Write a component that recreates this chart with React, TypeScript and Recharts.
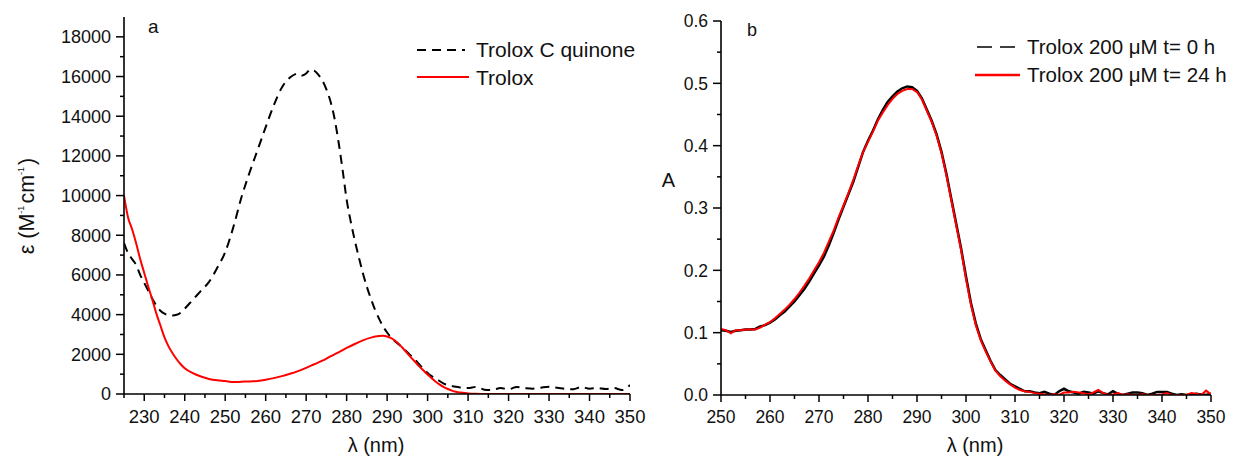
import React from 'react';
import { LineChart, Line, XAxis, YAxis } from 'recharts';

const FONT = '"Liberation Sans", Arial, Helvetica, sans-serif';

// ---- panel a : molar absorptivity ----
const quinoneNm = [
  225, 226, 227, 228, 229, 230, 231, 232, 233, 234, 235, 236, 237, 238, 239, 240,
  242, 244, 246, 248, 250, 252, 254, 256, 258, 260, 262, 264, 266, 268,
  269, 270, 271, 272, 273, 274, 275, 276, 277, 278, 279, 280, 281, 282, 283, 284, 285, 286, 287, 288,
  289, 290, 291, 292, 293, 294, 295, 296, 297, 298, 299, 300, 301, 302, 303, 304, 305, 306, 307, 308,
  310, 312, 314, 316, 318, 320, 322, 324, 326, 328, 330, 332, 334, 336, 338, 340, 342, 344, 346, 348, 350,
];
const quinoneEps = [
  7600, 7100, 6800, 6500, 6000, 5600, 5200, 4800, 4450, 4200, 4050, 3980, 3960, 3990, 4100, 4300,
  4750, 5200, 5650, 6350, 7150, 8400, 9900, 11150, 12300, 13450, 14550, 15450, 15950, 16150,
  16050, 16150, 16350, 16300, 16100, 15800, 15350, 14750, 13900, 12700, 11300, 9800, 8700, 7750, 6900, 6100, 5400, 4800, 4250, 3800,
  3400, 3100, 2850, 2650, 2480, 2300, 2100, 1900, 1700, 1480, 1260, 1060, 900, 780, 650, 520, 450, 400, 360, 330,
  300, 360, 220, 200, 300, 240, 350, 300, 270, 320, 360, 320, 260, 240, 350, 270, 300, 250, 300, 200, 450,
];

const troloxNm = [
  225, 226, 227, 228, 229, 230, 231, 232, 233, 234, 235, 236, 237, 238, 239, 240,
  242, 244, 246, 248, 250, 252, 254, 256, 258, 260, 262, 264, 266, 268, 270, 272, 274, 276, 278, 280, 282, 284, 286, 288,
  289, 290, 291, 292, 293, 294, 295, 296, 297, 298, 299, 300, 301, 302, 303, 304, 305, 306, 307, 308,
  310, 312, 314, 316, 318, 320, 322, 324, 326, 328, 330, 332, 334, 336, 338, 340, 342, 344, 346, 348, 350,
];
const troloxEps = [
  10000, 8900, 8300, 7600, 6800, 6100, 5400, 4750, 4050, 3450, 2850, 2400, 2050, 1750, 1500, 1300,
  1050, 880, 760, 690, 650, 600, 620, 630, 660, 720, 800, 900, 1020, 1150, 1320, 1500, 1680, 1900, 2100, 2320, 2520, 2700, 2840, 2920,
  2930, 2900, 2820, 2680, 2500, 2280, 2050, 1820, 1600, 1380, 1180, 980, 800, 620, 470, 350, 250, 170, 110, 70,
  30, 10, 0, 0, 0, 0, 0, 0, 0, 0, 0, 0, 0, 0, 0, 0, 0, 0, 0, 0, 0,
];

// ---- panel b : absorbance ----
const wavelengthB = Array.from({ length: 101 }, (_, i) => 250 + i);
const absT0 = [
  0.104, 0.103, 0.101, 0.103, 0.104, 0.105, 0.105, 0.106, 0.110, 0.112,
  0.116, 0.121, 0.128, 0.134, 0.142, 0.150, 0.160, 0.170, 0.182, 0.195,
  0.208, 0.222, 0.240, 0.260, 0.282, 0.302, 0.322, 0.342, 0.366, 0.390,
  0.408, 0.424, 0.442, 0.457, 0.470, 0.479, 0.487, 0.492, 0.495, 0.494,
  0.488, 0.476, 0.458, 0.440, 0.418, 0.390, 0.355, 0.315, 0.275, 0.235,
  0.190, 0.148, 0.115, 0.090, 0.072, 0.055, 0.040, 0.032, 0.025, 0.018,
  0.014, 0.010, 0.006, 0.006, 0.004, 0.003, 0.005, 0.002, 0.000, 0.006,
  0.010, 0.006, 0.004, 0.002, 0.005, 0.004, 0.002, 0.006, 0.003, 0.001,
  0.006, 0.002, 0.000, 0.002, 0.004, 0.004, 0.003, 0.000, 0.002, 0.005,
  0.005, 0.005, 0.002, 0.000, 0.001, 0.000, 0.000, 0.002, 0.001, 0.000,
  0.002,
];
const absT24 = [
  0.106, 0.104, 0.099, 0.104, 0.104, 0.105, 0.105, 0.105, 0.108, 0.113,
  0.117, 0.123, 0.130, 0.137, 0.145, 0.154, 0.164, 0.175, 0.187, 0.200,
  0.213, 0.228, 0.246, 0.264, 0.285, 0.304, 0.324, 0.345, 0.368, 0.390,
  0.406, 0.422, 0.440, 0.453, 0.465, 0.475, 0.483, 0.488, 0.491, 0.491,
  0.486, 0.474, 0.456, 0.438, 0.416, 0.388, 0.352, 0.312, 0.272, 0.232,
  0.186, 0.145, 0.112, 0.088, 0.070, 0.054, 0.039, 0.030, 0.023, 0.017,
  0.012, 0.008, 0.006, 0.005, 0.003, 0.002, 0.001, 0.000, 0.001, 0.000,
  0.004, 0.004, 0.005, 0.004, 0.003, 0.001, 0.004, 0.008, 0.003, 0.000,
  0.001, 0.003, 0.000, 0.001, 0.000, 0.000, 0.001, 0.000, 0.000, 0.000,
  0.001, 0.003, 0.000, 0.000, 0.000, 0.000, 0.003, 0.002, 0.000, 0.007,
  0.001,
];

const ticksXa = [225, 230, 235, 240, 245, 250, 255, 260, 265, 270, 275, 280, 285, 290, 295, 300, 305, 310, 315, 320, 325, 330, 335, 340, 345, 350];
const ticksYa = [0, 1000, 2000, 3000, 4000, 5000, 6000, 7000, 8000, 9000, 10000, 11000, 12000, 13000, 14000, 15000, 16000, 17000, 18000];
const ticksXb = [250, 255, 260, 265, 270, 275, 280, 285, 290, 295, 300, 305, 310, 315, 320, 325, 330, 335, 340, 345, 350];
const ticksYb = [0, 0.05, 0.1, 0.15, 0.2, 0.25, 0.3, 0.35, 0.4, 0.45, 0.5, 0.55, 0.6];

const quinoneData = quinoneNm.map((nm, i) => ({ nm, v: quinoneEps[i] }));
const troloxData = troloxNm.map((nm, i) => ({ nm, v: troloxEps[i] }));
const t0Data = wavelengthB.map((nm, i) => ({ nm, v: absT0[i] }));
const t24Data = wavelengthB.map((nm, i) => ({ nm, v: absT24[i] }));

const makeXTick = (fontSize: number, dy: number) => (props: any) => {
  const { x, y, payload } = props;
  const v = payload.value;
  const major = v % 10 === 0 && v !== 225;
  return (
    <g>
      <line x1={x} x2={x} y1={y} y2={y + (major ? 7 : 4)} stroke="#000" strokeWidth={1.5} />
      {major && (
        <text x={x} y={y + dy} textAnchor="middle" fontSize={fontSize} fontFamily={FONT} fill="#111">
          {v}
        </text>
      )}
    </g>
  );
};

const makeYTick = (fontSize: number, isMajor: (v: number) => boolean, fmt: (v: number) => string) => (props: any) => {
  const { x, y, payload } = props;
  const v = payload.value;
  const major = isMajor(v);
  return (
    <g>
      <line x1={x} x2={x - (major ? 8 : 4)} y1={y} y2={y} stroke="#000" strokeWidth={1.5} />
      {major && (
        <text x={x - 13} y={y} dy="0.36em" textAnchor="end" fontSize={fontSize} fontFamily={FONT} fill="#111">
          {fmt(v)}
        </text>
      )}
    </g>
  );
};

const axisLine = { stroke: '#000', strokeWidth: 1.6 };

export default function App() {
  return (
    <div style={{ position: 'absolute', left: 0, top: 0, width: 1247, height: 460, background: '#fff', fontFamily: FONT }}>
      <div style={{ position: 'absolute', left: 0, top: 0 }}>
        <LineChart width={670} height={460} margin={{ top: 17, right: 40, bottom: 36, left: 64 }}>
          <XAxis
            dataKey="nm"
            type="number"
            domain={[225, 350]}
            ticks={ticksXa}
            interval={0}
            allowDataOverflow
            height={30}
            tickLine={false}
            tickSize={0}
            tickMargin={0}
            axisLine={axisLine}
            tick={makeXTick(18.5, 29)}
          />
          <YAxis
            type="number"
            domain={[0, 19000]}
            ticks={ticksYa}
            interval={0}
            allowDataOverflow
            width={60}
            tickLine={false}
            tickSize={0}
            tickMargin={0}
            axisLine={axisLine}
            tick={makeYTick(18, (v) => v % 2000 === 0, (v) => String(v))}
          />
          <Line data={quinoneData} dataKey="v" type="monotone" stroke="#000" strokeWidth={2} strokeDasharray="9 6" dot={false} isAnimationActive={false} />
          <Line data={troloxData} dataKey="v" type="monotone" stroke="#f00" strokeWidth={2} dot={false} isAnimationActive={false} />
        </LineChart>
      </div>
      <div style={{ position: 'absolute', left: 640, top: 0 }}>
        <LineChart width={607} height={460} margin={{ top: 21, right: 36, bottom: 35, left: 21 }}>
          <XAxis
            dataKey="nm"
            type="number"
            domain={[250, 350]}
            ticks={ticksXb}
            interval={0}
            allowDataOverflow
            height={30}
            tickLine={false}
            tickSize={0}
            tickMargin={0}
            axisLine={axisLine}
            tick={makeXTick(17.5, 28)}
          />
          <YAxis
            type="number"
            domain={[0, 0.6]}
            ticks={ticksYb}
            interval={0}
            allowDataOverflow
            width={60}
            tickLine={false}
            tickSize={0}
            tickMargin={0}
            axisLine={axisLine}
            tick={makeYTick(17.5, (v) => Math.round(v * 100) % 10 === 0, (v) => v.toFixed(1))}
          />
          <Line data={t0Data} dataKey="v" type="linear" stroke="#000" strokeWidth={2.5} dot={false} isAnimationActive={false} />
          <Line data={t24Data} dataKey="v" type="linear" stroke="#f00" strokeWidth={2} dot={false} isAnimationActive={false} />
        </LineChart>
      </div>
      <svg width={1247} height={460} style={{ position: 'absolute', left: 0, top: 0, pointerEvents: 'none' }} fontFamily={FONT} fill="#111">
        <text x={148} y={33} fontSize={19}>a</text>
        <text x={747} y={36} fontSize={18}>b</text>

        <line x1={417} x2={465} y1={50} y2={50} stroke="#000" strokeWidth={2} strokeDasharray="9 6" />
        <text x={476} y={57} fontSize={21}>Trolox C quinone</text>
        <line x1={417} x2={469} y1={77} y2={77} stroke="#f00" strokeWidth={2} />
        <text x={476} y={85} fontSize={21}>Trolox</text>

        <line x1={977} x2={1018} y1={47} y2={47} stroke="#000" strokeWidth={1.5} strokeDasharray="15 8" />
        <text x={1027} y={54} fontSize={20.5}>Trolox 200 μM t= 0 h</text>
        <line x1={975} x2={1020} y1={75} y2={75} stroke="#f00" strokeWidth={2.5} />
        <text x={1027} y={82} fontSize={20.5}>Trolox 200 μM t= 24 h</text>

        <text x={376} y={452} fontSize={20} textAnchor="middle">λ (nm)</text>
        <text x={975} y={452} fontSize={20} textAnchor="middle">λ (nm)</text>
        <text x={668.5} y={187} fontSize={20} textAnchor="middle">A</text>
        <text x={34} y={206} fontSize={21.5} textAnchor="middle" transform="rotate(-90 34 206)">
          ε (M<tspan dy={-10} fontSize={9}>-1</tspan>
          <tspan dy={10} dx={2}>cm</tspan>
          <tspan dy={-10} fontSize={9}>-1</tspan>
          <tspan dy={10} dx={2}>)</tspan>
        </text>
      </svg>
    </div>
  );
}
